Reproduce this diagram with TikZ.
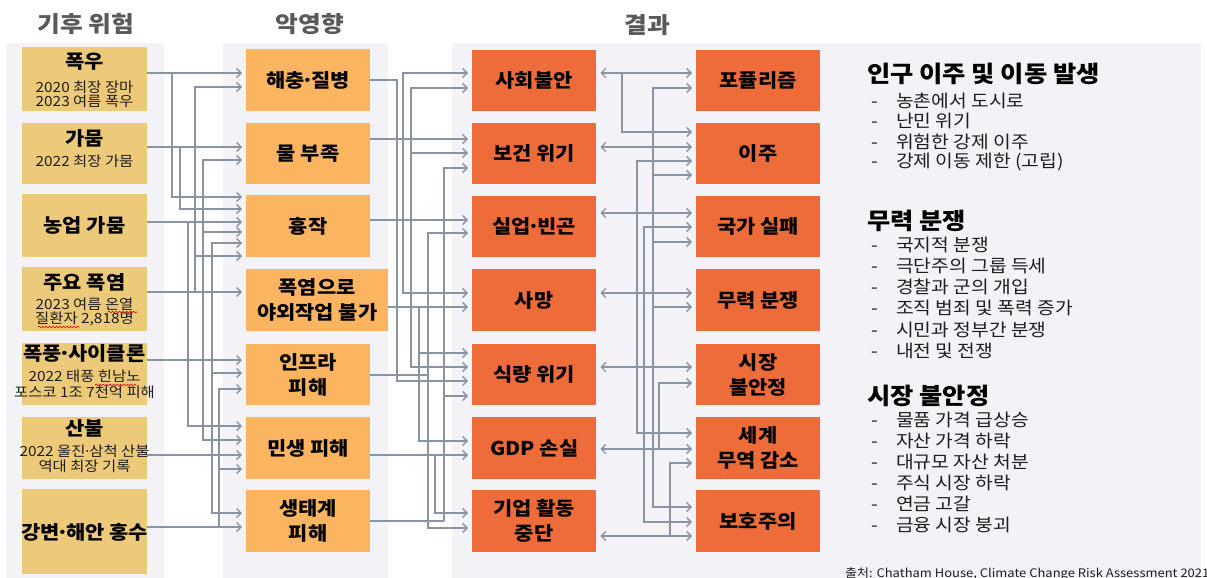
\documentclass[tikz,border=0pt]{standalone}
\usepackage{fontspec}
\setmainfont{Noto Sans CJK KR}[FakeStretch=1.1]
\usetikzlibrary{arrows.meta,decorations.pathmorphing}
\definecolor{panelC}{RGB}{243,242,246}
\definecolor{cA}{RGB}{237,201,122}
\definecolor{cB}{RGB}{251,180,95}
\definecolor{cC}{RGB}{237,108,58}
\definecolor{lineC}{RGB}{136,148,164}
\definecolor{headC}{RGB}{89,89,89}
\definecolor{subC}{RGB}{30,30,30}
\tikzset{
  bxA/.style={fill=cA, draw=none, inner sep=0pt, anchor=north west},
  bxB/.style={fill=cB, draw=none, inner sep=0pt, anchor=north west, align=center, font=\bfseries\fontsize{19}{25}\selectfont},
  bxC/.style={fill=cC, draw=none, inner sep=0pt, anchor=north west, align=center, font=\bfseries\fontsize{19}{25}\selectfont},
  ttl/.style={inner sep=0pt, font=\bfseries\fontsize{19}{22}\selectfont},
  sub/.style={inner sep=0pt, text=subC, font=\fontsize{14}{15}\selectfont},
  head/.style={inner sep=0pt, text=headC, font=\bfseries\fontsize{22.5}{26}\selectfont},
  rhead/.style={inner sep=0pt, anchor=west, font=\bfseries\fontsize{23}{26}\selectfont},
  ritem/.style={inner sep=0pt, anchor=west, text=subC, font=\fontsize{17.5}{19}\selectfont},
  seg/.style={draw=lineC, line width=1.3pt},
  conn/.style={draw=lineC, line width=1.3pt, -{Straight Barb[length=4.5pt,width=9pt]}, shorten >=4pt},
  bi/.style={draw=lineC, line width=1.3pt, {Straight Barb[length=4.5pt,width=9pt]}-{Straight Barb[length=4.5pt,width=9pt]}, shorten >=4pt, shorten <=4pt},
  squig/.style={draw=red!85!black, line width=0.6pt, decorate, decoration={snake, amplitude=0.9pt, segment length=3.5pt}}
}
\newcommand{\itm}[1]{\makebox[25pt][l]{-}#1}
\newcommand{\md}{\kern-0.17em·\kern-0.17em}
\begin{document}
\begin{tikzpicture}[x=1pt,y=-1pt]
\useasboundingbox (0,0) rectangle (1207,578);
\fill[white] (0,0) rectangle (1207,578);
% panels
\fill[panelC] (6,43) rectangle (164,578);
\fill[panelC] (223,43) rectangle (388,578);
\fill[panelC] (452,43) rectangle (1201,578);
% headers
\node[head] (hd1) at (86,24) {기후 위험};
\node[head] (hd2) at (310,24) {악영향};
\node[head] (hd3) at (647,25) {결과};

% column 1
\node[bxA, minimum width=125pt, minimum height=64pt] (r1) at (22,47) {};
\node[bxA, minimum width=125pt, minimum height=61pt] (r2) at (22,123) {};
\node[bxA, minimum width=125pt, minimum height=63pt] (r3) at (22,194) {};
\node[bxA, minimum width=125pt, minimum height=64pt] (r4) at (22,267) {};
\node[bxA, minimum width=125pt, minimum height=62pt] (r5) at (22,343) {};
\node[bxA, minimum width=125pt, minimum height=62pt] (r6) at (22,417) {};
\node[bxA, minimum width=125pt, minimum height=85pt] (r7) at (22,489) {};

\node[ttl] (t1) at (84.5,62) {폭우};
\node[sub] (s1a) at (84.5,87) {2020 최장 장마};
\node[sub] (s1b) at (84.5,101) {2023 여름 폭우};
\node[ttl] (t2) at (84.5,138) {가뭄};
\node[sub] (s2a) at (84.5,161) {2022 최장 가뭄};
\node[ttl] (t3) at (84.5,225) {농업 가뭄};
\node[ttl] (t4) at (84.5,282) {주요 폭염};
\node[sub] (s4a) at (84.5,304) {2023 여름 온열};
\node[sub] (s4b) at (84.5,319) {질환자 2,818명};
\node[ttl] (t5) at (84.5,354) {폭풍\md 사이클론};
\node[sub] (s5a) at (84.5,376) {2022 태풍 힌남노};
\node[sub] (s5b) at (84.5,392) {포스코 1조 7천억 피해};
\node[ttl] (t6) at (84.5,428) {산불};
\node[sub] (s6a) at (84.5,451) {2022 울진\md 삼척 산불};
\node[sub] (s6b) at (84.5,466) {역대 최장 기록};
\node[ttl] (t7) at (84.5,532) {강변\md 해안 홍수};

\draw[squig] (108,312) -- (137,312);
\draw[squig] (38,327) -- (79,327);
\draw[squig] (95,385) -- (136,385);

% column 2
\node[bxB, minimum width=124pt, minimum height=62pt] (a1) at (246,49) {해충\md 질병};
\node[bxB, minimum width=124pt, minimum height=61pt] (a2) at (246,123) {물 부족};
\node[bxB, minimum width=124pt, minimum height=62pt] (a3) at (246,195) {흉작};
\node[bxB, minimum width=142pt, minimum height=62pt] (a4) at (246,269) {폭염으로\\야외작업 불가};
\node[bxB, minimum width=124pt, minimum height=61pt] (a5) at (246,344) {인프라\\피해};
\node[bxB, minimum width=124pt, minimum height=62pt] (a6) at (246,417) {민생 피해};
\node[bxB, minimum width=124pt, minimum height=62pt] (a7) at (246,490) {생태계\\피해};

% column 3
\node[bxC, minimum width=124pt, minimum height=61pt] (b1) at (472,50) {사회불안};
\node[bxC, minimum width=124pt, minimum height=61pt] (b2) at (472,123) {보건 위기};
\node[bxC, minimum width=124pt, minimum height=61pt] (b3) at (472,196) {실업\md 빈곤};
\node[bxC, minimum width=124pt, minimum height=62pt] (b4) at (472,269) {사망};
\node[bxC, minimum width=124pt, minimum height=61pt] (b5) at (472,344) {식량 위기};
\node[bxC, minimum width=124pt, minimum height=62pt] (b6) at (472,417) {GDP 손실};
\node[bxC, minimum width=124pt, minimum height=62pt] (b7) at (472,490) {기업 활동\\중단};

% column 4
\node[bxC, minimum width=124pt, minimum height=61pt] (d1) at (696,50) {포퓰리즘};
\node[bxC, minimum width=124pt, minimum height=61pt] (d2) at (696,123) {이주};
\node[bxC, minimum width=124pt, minimum height=61pt] (d3) at (696,196) {국가 실패};
\node[bxC, minimum width=124pt, minimum height=62pt] (d4) at (696,269) {무력 분쟁};
\node[bxC, minimum width=124pt, minimum height=61pt] (d5) at (696,344) {시장\\불안정};
\node[bxC, minimum width=124pt, minimum height=62pt] (d6) at (696,417) {세계\\무역 감소};
\node[bxC, minimum width=124pt, minimum height=62pt] (d7) at (696,490) {보호주의};

% ---- connectors column 1 -> 2
\draw[conn] (r1.east |- 0,73) -- (a1.west |- 0,73);
\draw[conn] (172,73) |- (a3.west |- 0,197);
\draw[conn] (r2.east |- 0,147) -- (a2.west |- 0,147);
\draw[conn] (180,147) |- (a3.west |- 0,209);
\draw[conn] (r3.east |- 0,222) -- (a3.west |- 0,222);
\draw[conn] (188,222) |- (a6.west |- 0,426);
\draw[conn] (r4.east |- 0,292) -- (a4.west |- 0,292);
\draw[conn] (195,292) |- (a1.west |- 0,87);
\draw[conn] (195,292) |- (a3.west |- 0,256);
\draw[conn] (203,292) |- (a2.west |- 0,160);
\draw[conn] (203,292) |- (a3.west |- 0,232);
\draw[conn] (203,292) |- (a6.west |- 0,440);
\draw[conn] (212,292) |- (a3.west |- 0,243);
\draw[conn] (212,292) |- (a5.west |- 0,373);
\draw[conn] (212,292) |- (a7.west |- 0,513);
\draw[conn] (r5.east |- 0,360) -- (a5.west |- 0,360);
\draw[conn] (r6.east |- 0,455) -- (a6.west |- 0,455);
\draw[conn] (r7.east |- 0,527) -- (a7.west |- 0,527);
\draw[conn] (219,527) |- (a5.west |- 0,389);
\draw[conn] (219,527) |- (a6.west |- 0,469);

% ---- connectors column 2 -> 3
\draw[conn] (a1.east |- 0,80) -| (397,381) -- (b5.west |- 0,381);
\draw[conn] (a2.east |- 0,139) -- (b2.west |- 0,139);
\draw[conn] (403,139) |- (b1.west |- 0,73);
\draw[conn] (403,139) |- (b4.west |- 0,293);
\draw[conn] (a3.east |- 0,220) -- (b3.west |- 0,220);
\draw[conn] (411,220) |- (b1.west |- 0,88);
\draw[conn] (411,220) |- (b2.west |- 0,153);
\draw[conn] (411,220) |- (b5.west |- 0,367);
\draw[conn] (a4.east |- 0,307) -- (b4.west |- 0,307);
\draw[conn] (419,307) |- (b5.west |- 0,353);
\draw[conn] (419,307) |- (b6.west |- 0,441);
\draw[seg] (a5.east |- 0,375) -- (428,375);
\draw[conn] (428,375) |- (b3.west |- 0,233);
\draw[conn] (428,375) |- (b7.west |- 0,528);
\draw[conn] (a6.east |- 0,455) -- (b6.west |- 0,455);
\draw[conn] (435,455) |- (b7.west |- 0,513);
\draw[seg] (a7.east |- 0,521) -- (444,521);
\draw[conn] (444,521) |- (b2.west |- 0,168);
\draw[conn] (444,521) |- (b5.west |- 0,396);

% ---- connectors column 3 <-> 4
\draw[bi] (b1.east |- 0,73) -- (d1.west |- 0,73);
\draw[bi] (b2.east |- 0,147) -- (d2.west |- 0,147);
\draw[bi] (b3.east |- 0,213) -- (d3.west |- 0,213);
\draw[bi] (b4.east |- 0,293) -- (d4.west |- 0,293);
\draw[bi] (b5.east |- 0,367) -- (d5.west |- 0,367);
\draw[bi] (b6.east |- 0,449) -- (d6.west |- 0,449);
\draw[bi] (b7.east |- 0,536) -- (d7.west |- 0,536);
\draw[conn] (622,73) |- (d2.west |- 0,132);
\draw[conn] (653,367) |- (d1.west |- 0,88);
\draw[conn] (653,367) |- (d2.west |- 0,175);
\draw[conn] (653,367) |- (d3.west |- 0,242);
\draw[conn] (653,367) |- (d4.west |- 0,307);
\draw[conn] (653,367) |- (d7.west |- 0,507);
\draw[conn] (637,213) |- (d2.west |- 0,161);
\draw[conn] (637,213) |- (d6.west |- 0,433);
\draw[conn] (644,449) |- (d3.west |- 0,227);
\draw[conn] (644,449) |- (d7.west |- 0,522);
\draw[conn] (659,449) |- (d5.west |- 0,383);
\draw[conn] (670,536) |- (d6.west |- 0,463);

% ---- right text
\node[rhead] (g1) at (867,74) {인구 이주 및 이동 발생};
\node[ritem] (g1a) at (871,101) {\itm{농촌에서 도시로}};
\node[ritem] (g1b) at (871,121) {\itm{난민 위기}};
\node[ritem] (g1c) at (871,142) {\itm{위험한 강제 이주}};
\node[ritem] (g1d) at (871,162) {\itm{강제 이동 제한 (고립)}};

\node[rhead] (g2) at (867,221) {무력 분쟁};
\node[ritem] (g2a) at (871,245) {\itm{국지적 분쟁}};
\node[ritem] (g2b) at (871,266) {\itm{극단주의 그룹 득세}};
\node[ritem] (g2c) at (871,287) {\itm{경찰과 군의 개입}};
\node[ritem] (g2d) at (871,308) {\itm{조직 범죄 및 폭력 증가}};
\node[ritem] (g2e) at (871,330) {\itm{시민과 정부간 분쟁}};
\node[ritem] (g2f) at (871,351) {\itm{내전 및 전쟁}};

\node[rhead] (g3) at (867,396) {시장 불안정};
\node[ritem] (g3a) at (871,420) {\itm{물품 가격 급상승}};
\node[ritem] (g3b) at (871,441) {\itm{자산 가격 하락}};
\node[ritem] (g3c) at (871,462) {\itm{대규모 자산 처분}};
\node[ritem] (g3d) at (871,483) {\itm{주식 시장 하락}};
\node[ritem] (g3e) at (871,504) {\itm{연금 고갈}};
\node[ritem] (g3f) at (871,525) {\itm{금융 시장 붕괴}};

\node[inner sep=0pt, anchor=base west, text=subC, font=\fontsize{11.8}{14}\selectfont] (src) at (845,577) {출처: Chatham House, Climate Change Risk Assessment 2021};
\end{tikzpicture}
\end{document}
